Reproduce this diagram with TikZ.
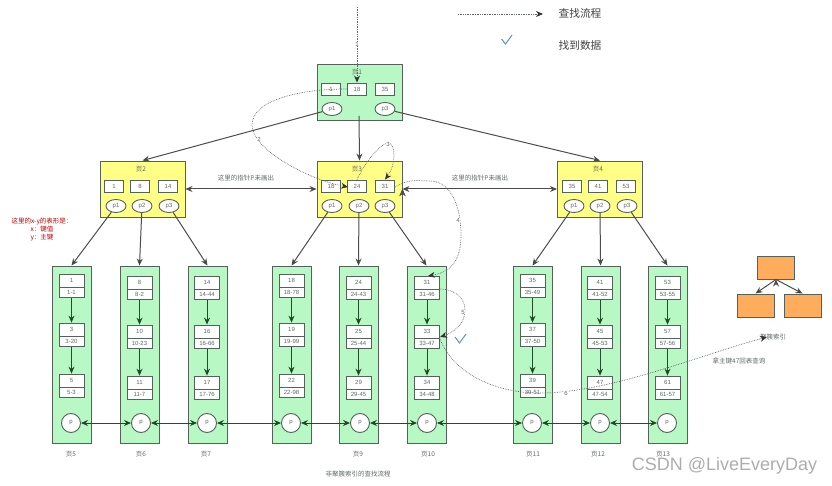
\documentclass[tikz,border=0pt]{standalone}
\usepackage{fontspec}
\setmainfont{Liberation Sans}
\newfontfamily\cjk{Noto Sans CJK SC}
\usetikzlibrary{shapes.multipart,shapes.geometric,arrows.meta}
\definecolor{pagegreen}{HTML}{B8F8C4}
\definecolor{pageyellow}{HTML}{FFFF85}
\definecolor{pageorange}{HTML}{FFAD5C}
\definecolor{edgegrey}{HTML}{55625A}
\definecolor{textgrey}{HTML}{606868}
\definecolor{leafarrow}{HTML}{1F4F28}
\definecolor{checkblue}{HTML}{5B93C5}
\tikzset{
  greenpage/.style={draw=edgegrey,line width=.95pt,fill=pagegreen,inner sep=0pt},
  yellowpage/.style={draw=edgegrey,line width=.95pt,fill=pageyellow,minimum width=85pt,minimum height=56pt,inner sep=0pt},
  leafpage/.style={greenpage,minimum width=39pt,minimum height=177pt},
  orangebox/.style={draw=edgegrey,line width=.95pt,fill=pageorange,minimum width=37pt,minimum height=23pt,inner sep=0pt},
  keybox/.style={draw=edgegrey,line width=.9pt,fill=white,minimum width=19pt,minimum height=12pt,inner sep=0pt,text=textgrey,font=\fontsize{6}{7}\selectfont},
  ptr/.style={ellipse,draw=edgegrey,line width=.9pt,fill=white,minimum width=20pt,minimum height=13pt,inner sep=0pt,text=textgrey,font=\fontsize{6}{7}\selectfont},
  leafptr/.style={circle,draw=edgegrey,line width=.9pt,fill=white,minimum size=19pt,inner sep=0pt,text=textgrey,font=\fontsize{6}{7}\selectfont},
  rec/.style={rectangle split,rectangle split parts=2,draw=edgegrey,line width=.9pt,fill=white,minimum width=25pt,inner xsep=0pt,inner ysep=2.9pt,text=textgrey,font=\fontsize{6}{7}\selectfont,text height=5pt,text depth=1.2pt},
  captext/.style={text=textgrey,inner sep=0pt,font=\cjk\fontsize{6.5}{7.5}\selectfont},
  flow/.style={draw=textgrey,densely dotted,line width=.7pt,-{Stealth[length=7pt,width=6pt,black!80]}},
  flownum/.style={text=textgrey,inner sep=0pt,font=\fontsize{6}{7}\selectfont},
  tree/.style={-{Stealth[length=7pt,width=6pt]},draw=black!70,line width=1pt},
  treeboth/.style={{Stealth[length=7pt,width=6pt]}-{Stealth[length=7pt,width=6pt]},draw=black!70,line width=1pt},
  leafedge/.style={-{Stealth[length=7pt,width=6pt]},draw=leafarrow,line width=1pt},
  leafboth/.style={{Stealth[length=7pt,width=6pt]}-{Stealth[length=7pt,width=6pt]},draw=leafarrow,line width=.9pt},
  checkmark/.style={draw=checkblue,line width=1pt}
}
\begin{document}
\begin{tikzpicture}[x=1pt,y=-1pt]
  \useasboundingbox (0,0) rectangle (832,486);
  % upper pages
  \node [greenpage,minimum width=85pt,minimum height=56pt] (pg1) at (359.5,92) {};
  \node [yellowpage] (pg2) at (142.5,189) {};
  \node [yellowpage] (pg3) at (359.5,189) {};
  \node [yellowpage] (pg4) at (600,189) {};

  \node [captext] (t1) at (357,72) {页1};
  \node [keybox] (a1) at (331,89) {1};
  \node [keybox] (a18) at (357,89) {18};
  \node [keybox] (a35) at (385,89) {35};
  \node [ptr] (ap1) at (332,109) {p1};
  \node [ptr] (ap3) at (385,109) {p3};
  \coordinate (ap2) at (359,116);

  \node [captext] (t2) at (141,169) {页2};
  \node [keybox] (b1) at (114,186) {1};
  \node [keybox] (b8) at (140,186) {8};
  \node [keybox] (b14) at (168,186) {14};
  \node [ptr] (bp1) at (116,206) {p1};
  \node [ptr] (bp2) at (142,206) {p2};
  \node [ptr] (bp3) at (169,206) {p3};

  \node [captext] (t3) at (357,169) {页3};
  \node [keybox] (c18) at (331,186) {18};
  \node [keybox] (c24) at (357,186) {24};
  \node [keybox] (c31) at (385,186) {31};
  \node [ptr] (cp1) at (332,206) {p1};
  \node [ptr] (cp2) at (359,206) {p2};
  \node [ptr] (cp3) at (385,206) {p3};

  \node [captext] (t4) at (598,169) {页4};
  \node [keybox] (d35) at (572,186) {35};
  \node [keybox] (d41) at (598,186) {41};
  \node [keybox] (d53) at (626,186) {53};
  \node [ptr] (dp1) at (574,206) {p1};
  \node [ptr] (dp2) at (600,206) {p2};
  \node [ptr] (dp3) at (627,206) {p3};

  % leaf pages
  \node [leafpage] (pg5) at (71.5,354.5) {};
  \node [leafpage] (pg6) at (139.5,354.5) {};
  \node [leafpage] (pg7) at (207.5,354.5) {};
  \node [leafpage] (pg8) at (291.5,354.5) {};
  \node [leafpage] (pg9) at (358.5,354.5) {};
  \node [leafpage] (pg10) at (426.5,354.5) {};
  \node [leafpage] (pg11) at (532.5,354.5) {};
  \node [leafpage] (pg12) at (600.5,354.5) {};
  \node [leafpage] (pg13) at (667.5,354.5) {};

  \node [rec] (r1) at (71.5,286) {1\nodepart{two}1-1};
  \node [rec] (r3) at (71.5,335) {3\nodepart{two}3-20};
  \node [rec] (r5) at (71.5,386) {5\nodepart{two}5-3};
  \node [rec] (r8) at (139.5,288) {8\nodepart{two}8-2};
  \node [rec] (r10) at (139.5,337) {10\nodepart{two}10-23};
  \node [rec] (r11) at (139.5,388) {11\nodepart{two}11-7};
  \node [rec] (r14) at (207,288) {14\nodepart{two}14-44};
  \node [rec] (r16) at (207,337) {16\nodepart{two}16-66};
  \node [rec] (r17) at (207,388) {17\nodepart{two}17-76};
  \node [rec] (r18) at (291.5,286) {18\nodepart{two}18-78};
  \node [rec] (r19) at (291.5,335) {19\nodepart{two}19-99};
  \node [rec] (r22) at (291.5,386) {22\nodepart{two}22-98};
  \node [rec] (r24) at (358.5,288) {24\nodepart{two}24-43};
  \node [rec] (r25) at (358.5,337) {25\nodepart{two}25-44};
  \node [rec] (r29) at (358.5,388) {29\nodepart{two}29-45};
  \node [rec] (r31) at (427,288) {31\nodepart{two}31-46};
  \node [rec] (r33) at (427,337) {33\nodepart{two}33-47};
  \node [rec] (r34) at (427,388) {34\nodepart{two}34-48};
  \node [rec] (r35) at (532.5,286) {35\nodepart{two}35-49};
  \node [rec] (r37) at (532.5,335) {37\nodepart{two}37-50};
  \node [rec] (r39) at (532.5,386) {39\nodepart{two}39-51};
  \node [rec] (r41) at (600,288) {41\nodepart{two}41-52};
  \node [rec] (r45) at (600,337) {45\nodepart{two}45-53};
  \node [rec] (r47) at (600,388) {47\nodepart{two}47-54};
  \node [rec] (r53) at (667.5,288) {53\nodepart{two}53-55};
  \node [rec] (r57) at (667.5,337) {57\nodepart{two}57-56};
  \node [rec] (r61) at (667.5,388) {61\nodepart{two}61-57};

  \node [leafptr] (q5) at (71,423) {p};
  \node [leafptr] (q6) at (141,423) {p};
  \node [leafptr] (q7) at (207,423) {p};
  \node [leafptr] (q8) at (291,423) {p};
  \node [leafptr] (q9) at (360,423) {p};
  \node [leafptr] (q10) at (427,423) {p};
  \node [leafptr] (q11) at (532,423) {p};
  \node [leafptr] (q12) at (600,423) {p};
  \node [leafptr] (q13) at (667,423) {p};

  \node [captext] (t5) at (71,454) {页5};
  \node [captext] (t6) at (141,454) {页6};
  \node [captext] (t7) at (206,454) {页7};
  \node [captext] (t9) at (358,454) {页9};
  \node [captext] (t10) at (428,454) {页10};
  \node [captext] (t11) at (533,454) {页11};
  \node [captext] (t12) at (598,454) {页12};
  \node [captext] (t13) at (663,454) {页13};

  % clustered index sketch
  \node [orangebox] (o1) at (776,267.5) {};
  \node [orangebox] (o2) at (755.5,305.5) {};
  \node [orangebox] (o3) at (802.5,305.5) {};

  % other labels
  \node [captext] (l1) at (246,178) {这里的指针P未画出};
  \node [captext] (l2) at (480,178) {这里的指针P未画出};
  \node [captext] (l3) at (358,474) {非聚簇索引的查找流程};
  \node [captext] (l4) at (773,337) {聚簇索引};
  \node [captext] (l5) at (739,361) {拿主键47回表查询};
  \node [captext,text=red!75!black,align=center,font=\cjk\fontsize{6.5}{8}\selectfont] (l6) at (42,230) {这里的x-y的表形是：\\x：键值\\y：主键};
  \node [captext,text=black!75,font=\cjk\fontsize{10.7}{12}\selectfont] (l7) at (580,13) {查找流程};
  \node [captext,text=black!75,font=\cjk\fontsize{10.7}{12}\selectfont] (l8) at (580,45) {找到数据};
  \node [text=black!32,inner sep=0pt,font=\fontsize{18}{20}\selectfont] (mark) at (724.5,466) {CSDN @LiveEveryDay};

  \path [tree]
  (ap1) edge (pg2.north)
  (ap2) edge (pg3.north)
  (ap3) edge (pg4.north)
  (bp1) edge (pg5.north)
  (bp2) edge (pg6.north)
  (bp3) edge (pg7.north)
  (cp1) edge (pg8.north)
  (cp2) edge (pg9.north)
  (cp3) edge (pg10.north)
  (dp1) edge (pg11.north)
  (dp2) edge (pg12.north)
  (dp3) edge (pg13.north)
  (o1.south) edge (o2.north)
  (o1.south) edge (o3.north)
  ;
  \path [treeboth]
  (pg2.east) edge (pg3.west)
  (pg3.east) edge (pg4.west)
  ;
  \path [leafedge]
  (r1) edge (r3)
  (r3) edge (r5)
  (r8) edge (r10)
  (r10) edge (r11)
  (r14) edge (r16)
  (r16) edge (r17)
  (r18) edge (r19)
  (r19) edge (r22)
  (r24) edge (r25)
  (r25) edge (r29)
  (r31) edge (r33)
  (r33) edge (r34)
  (r35) edge (r37)
  (r37) edge (r39)
  (r41) edge (r45)
  (r45) edge (r47)
  (r53) edge (r57)
  (r57) edge (r61)
  ;
  \path [leafboth]
  (q5) edge (q6)
  (q6) edge (q7)
  (q7) edge (q8)
  (q8) edge (q9)
  (q9) edge (q10)
  (q10) edge (q11)
  (q11) edge (q12)
  (q12) edge (q13)
  ;

  % search path
  \coordinate (start) at (357,7);
  \coordinate (legenda) at (458,14);
  \coordinate (legendb) at (543,14);
  \coordinate (leaf31) at (428,276);
  \coordinate (leaf33a) at (440,337);
  \coordinate (leaf33b) at (440,339);
  \coordinate (leaf31b) at (440,289);
  \coordinate (c31r) at (395,187);
  \coordinate (k24a) at (348,187);
  \coordinate (k18s) at (347,89);
  \coordinate (clustered) at (767,337);
  \draw [flow] (legenda) -- (legendb);
  \draw [flow] (start) -- (a18);
  \draw [flow] (k18s) .. controls (300,89) and (252,100) .. (252,125)
    .. controls (252,150) and (310,180) .. (k24a);
  \draw [flow] (c24.north) .. controls (366,160) and (382,143) .. (388,143)
    .. controls (396,143) and (396,165) .. (c31.north);
  \draw [flow] (c31r) .. controls (410,178) and (420,181) .. (430,181)
    .. controls (450,181) and (461,205) .. (461,235)
    .. controls (461,262) and (450,272) .. (leaf31);
  \draw [flow] (leaf31b) .. controls (452,289) and (465,296) .. (465,310)
    .. controls (465,325) and (452,333) .. (leaf33a);
  \draw [flow] (leaf33b) .. controls (452,370) and (490,393) .. (540,393)
    .. controls (610,393) and (700,355) .. (clustered);

  \node [flownum,fill=white] (f1) at (357,44) {1};
  \node [flownum,fill=white] (f2) at (259,139) {2};
  \node [flownum,fill=white] (f3) at (388,144) {3};
  \node [flownum,fill=white] (f4) at (458,220) {4};
  \node [flownum,fill=white] (f5) at (463,312) {5};
  \node [flownum,fill=white] (f6) at (566,393) {6};

  % found marks
  \draw [checkmark] (501.5,39) -- (505.5,44) -- (512,35);
  \draw [checkmark] (455,337) -- (459.5,343) -- (466,334);
\end{tikzpicture}
\end{document}
